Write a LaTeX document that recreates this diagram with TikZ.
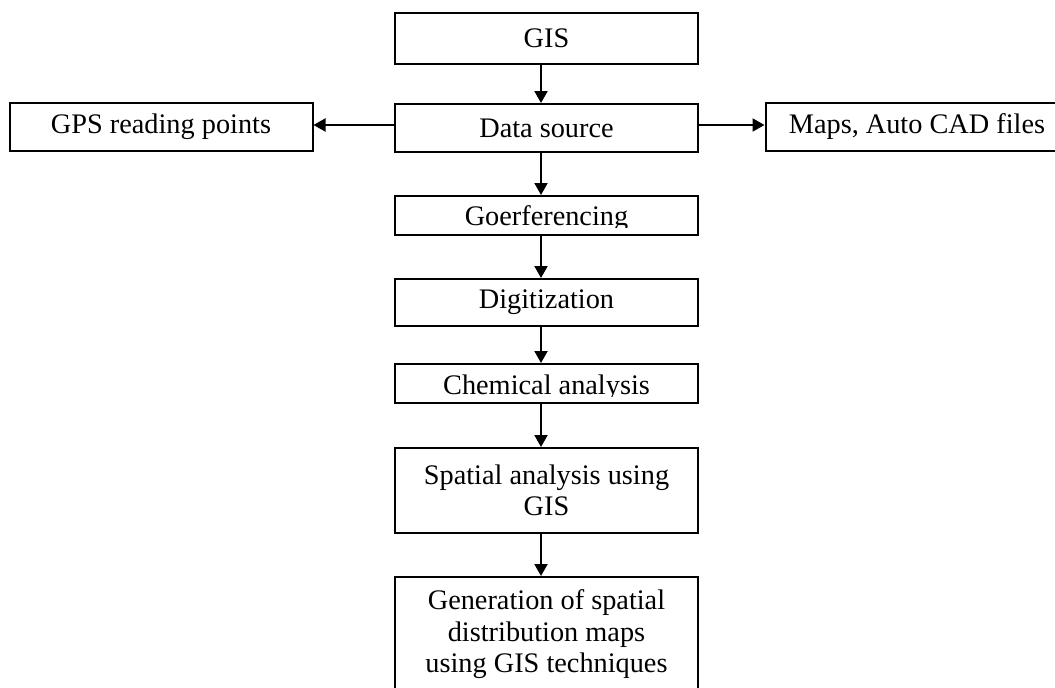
\documentclass[tikz,border=0pt]{standalone}
\usepackage{fontspec}
\setmainfont{Liberation Serif}
\usetikzlibrary{arrows.meta}
\tikzset{
  box/.style={draw=black, line width=2pt, minimum width=303pt, inner sep=0pt,
    font=\fontsize{28.3}{30.5}\selectfont, align=center},
  genbox/.style={box, font=\fontsize{28.3}{31.5}\selectfont},
  lbl/.style={inner sep=0pt, font=\fontsize{28.3}{30.5}\selectfont},
  arr/.style={line width=2pt, -{Triangle[length=12pt,width=13pt]}}
}
\begin{document}
\begin{tikzpicture}[x=1pt,y=-1pt]
\clip (0,0) rectangle (1055,688);
\fill[white] (0,0) rectangle (1055,688);
% boxes
\node[box, minimum height=51pt] (gis) at (546.5,38.5) {GIS};
\node[box, minimum height=48pt] (ds) at (546.5,128) {Data source};
\node[box, minimum height=48pt] (gps) at (161,127) {GPS reading points};
\node[box, minimum height=48pt] (maps) at (917,127) {Maps, Auto CAD files};
\node[box, minimum height=39pt] (geo) at (546.5,215.5) {};
\node[box, minimum height=47pt] (dig) at (546.5,302.5) {Digitization};
\node[box, minimum height=39pt] (chem) at (546.5,383.5) {};
\node[box, minimum height=85pt] (spa) at (546.5,490.5) {Spatial analysis using\\GIS};
\node[genbox, minimum height=115pt] (gen) at (546.5,634.5) {Generation of spatial\\distribution maps\\using GIS techniques};
% clipped texts (descenders cut as in the original)
\begin{scope}
  \clip (396,197) rectangle (697,227.5);
  \node[lbl, anchor=base] (geot) at (546.5,225) {Goerferencing};
\end{scope}
\begin{scope}
  \clip (396,365) rectangle (697,396.5);
  \node[lbl, anchor=base] (chemt) at (546.5,394.3) {Chemical analysis};
\end{scope}
% connectors
\draw[arr] ([xshift=-5.5pt]gis.south) -- ([xshift=-5.5pt]ds.north);
\draw[arr] ([xshift=-5.5pt]ds.south) -- ([xshift=-5.5pt]geo.north);
\draw[arr] ([xshift=-5.5pt]geo.south) -- ([xshift=-5.5pt]dig.north);
\draw[arr] ([xshift=-5.5pt]dig.south) -- ([xshift=-5.5pt]chem.north);
\draw[arr] ([xshift=-5.5pt]chem.south) -- ([xshift=-5.5pt]spa.north);
\draw[arr] ([xshift=-5.5pt]spa.south) -- ([xshift=-5.5pt]gen.north);
\draw[arr] ([yshift=3pt]ds.west) -- ([yshift=3pt]ds.west -| gps.east);
\draw[arr] ([yshift=3pt]ds.east) -- ([yshift=3pt]ds.east -| maps.west);
\end{tikzpicture}
\end{document}
